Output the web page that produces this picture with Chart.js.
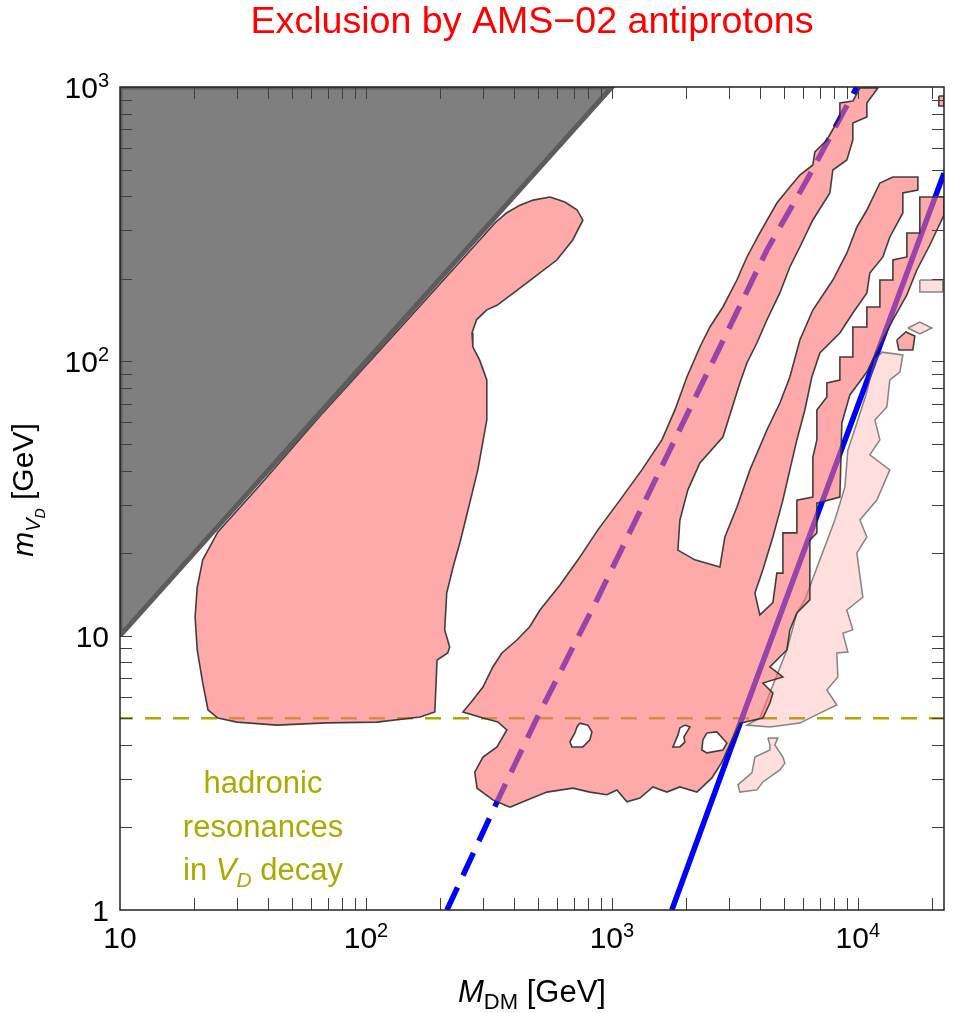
<!DOCTYPE html>
<html>
<head>
<meta charset="utf-8">
<script src="https://cdn.jsdelivr.net/npm/chart.js@4.4.1/dist/chart.umd.min.js"></script>
<style>
  html, body { margin: 0; padding: 0; background: #fff; }
  #wrap { width: 954px; height: 1013px; }
</style>
</head>
<body>
<div id="wrap"><canvas id="chart" width="954" height="1013"></canvas></div>
<script>
// axis ranges and tick labels (exponents of 10)
const xRange = [10, 22400];
const yRange = [1, 1000];
const xTickExp = [1, 2, 3, 4];
const yTickExp = [0, 1, 2, 3];

const titleText = "Exclusion by AMS\u221202 antiprotons";

// M_DM = m_VD edge, region above is kinematically closed
const closedRegion = [[10, 10], [1000, 1000], [10, 1000]];

// hadronic resonance threshold
const resonanceMass = 5;

// the two benchmark curves
const curveSolid = [[1753, 1], [3378, 5], [9280, 57.6], [22400, 485]];
const curveDashed = [[213.5, 1], [344, 2.52], [496, 5.01], [869, 13.5], [2279, 79.9],
  [3253, 153.8], [4267, 254.6], [6204, 458], [9906, 1000]];

// excluded regions (M_DM, m_VD)
const excludedLow = [[560, 397], [644, 381], [721, 357], [762, 327], [693, 277], [597, 234],
  [478, 201], [396, 177], [341, 160], [310, 154], [282, 142], [270, 127], [272, 113], [290, 101],
  [310, 85.5], [310, 61.1], [285, 40.2], [260, 28.7], [241, 21.8], [226, 17.8], [213, 14.3],
  [209, 10.5], [219, 9.1], [215, 8.65], [194.6, 8.15], [190.6, 5.27], [166, 5.05], [111, 4.84],
  [69.3, 4.81], [43.4, 4.72], [29.9, 4.84], [25, 5.01], [22.8, 5.36], [21.7, 6.71], [20.6, 8.87],
  [20.2, 11.7], [20.6, 15], [21.7, 18.9], [25, 23.9], [37.1, 35.4], [66.8, 64.9], [137.4, 132],
  [290, 277], [334, 319], [374, 348], [423, 371], [478, 387]];

const excludedHigh = [[385, 2.37], [328, 2.52], [283, 2.78], [277, 3.18], [299, 3.61], [341, 3.93],
  [374, 4.53], [344, 4.85], [299, 5.01], [248, 5.27], [272, 5.83], [299, 6.5], [328, 7.69],
  [357, 8.65], [411, 9.64], [464, 10.8], [510, 12.4], [615, 15.3], [728, 18.9], [877, 24.3],
  [1078, 31.2], [1324, 40.2], [1597, 51.7], [1804, 66.5], [2018, 87.7], [2279, 112.8],
  [2503, 133.4], [2827, 157.8], [3222, 197.9], [3539, 240.1], [3996, 293.7], [4685, 377.7],
  [5291, 432], [5810, 477.8], [6562, 519.7], [6686, 579.6], [7482, 641], [8451, 777.5],
  [8451, 874.4], [9543, 889.2], [10190, 991.6], [12060, 991.6], [10880, 874.4], [10880, 777.5],
  [9543, 739.3], [9543, 641], [9023, 542], [7914, 498.3], [7695, 410.8], [6562, 327.5],
  [5810, 261.1], [5291, 220.7], [4819, 177.5], [4267, 141.5], [3886, 116.6], [3539, 98.6],
  [3314, 83.4], [2827, 53], [2279, 42.6], [2037, 34], [1890, 26.4], [1855, 20.5], [2175, 18.9],
  [2748, 17.8], [2880, 22.9], [3222, 29.4], [3640, 40.2], [4267, 56.2], [4819, 70.5],
  [5291, 87.7], [5810, 119.6], [6562, 153.8], [7914, 197.9], [9023, 248.3], [9907, 308.8],
  [10880, 356.1], [12290, 446.8], [13880, 469.8], [17540, 469.8], [17540, 421.3], [15240, 410.8],
  [15240, 347.3], [13490, 284], [12640, 240.1], [11190, 209.9], [10880, 177.5], [9543, 150],
  [8451, 126.8], [7006, 107.2], [6501, 87.7], [6088, 66.5], [5649, 51.7], [5291, 40.2],
  [4956, 31.2], [4513, 22.9], [4110, 17.4], [3814, 14.3], [3996, 11.9], [4513, 13.2],
  [4685, 16.9], [4956, 16.9], [4956, 23.7], [5649, 23.7], [5649, 31.2], [6562, 32], [6562, 44.8],
  [6813, 51.7], [6813, 66.5], [7482, 74.1], [7482, 83.4], [8451, 85.5], [8451, 103.7],
  [9543, 103.7], [9543, 133.4], [10880, 133.4], [10880, 157.8], [12290, 157.8], [12290, 197.9],
  [13880, 197.9], [13880, 234.1], [15820, 240.1], [15820, 293.7], [17860, 293.7], [17860, 397.2],
  [22400, 397.2], [22400, 341.5], [19620, 265.5], [17370, 215.3], [15820, 174.5], [13880, 141.5],
  [12290, 114.7], [10880, 91.4], [9280, 75.4], [8610, 59.6], [8451, 32], [6813, 30.4],
  [6813, 23.7], [6380, 22.3], [6380, 13.5], [5649, 12.1], [5291, 10.5], [5145, 8.87],
  [4389, 7.69], [4956, 7.07], [4110, 6.72], [4513, 6.18], [4389, 5.68], [4110, 5.01], [3314, 4.8],
  [3075, 4.17], [2800, 3.46], [2550, 3.03], [2216, 2.69], [1890, 2.81], [1673, 2.69],
  [1468, 2.81], [1300, 2.56], [1151, 2.48], [1048, 2.74], [954, 2.63], [814, 2.69], [694, 2.78],
  [544, 2.69], [435, 2.48]];

const excludedBits = [
  [[14400, 119.6], [15670, 127.9], [17050, 123.7], [16730, 110], [14680, 110]],
  [[21350, 927], [22400, 927], [22400, 853], [21350, 853]]
];

// allowed islands inside the excluded region
const islands = [
  [[741, 4.8], [799, 4.72], [829, 4.46], [814, 4.17], [762, 3.93], [688, 3.93], [675, 4.1], [707, 4.42], [721, 4.65]],
  [[1981, 4.72], [2075, 4.65], [1962, 4.27], [1981, 4.1], [1890, 3.93], [1770, 3.93], [1855, 4.34], [1890, 4.61]],
  [[2433, 4.42], [2672, 4.46], [2934, 4.06], [2827, 3.83], [2433, 3.74], [2322, 3.83], [2344, 4.17]]
];

// weaker exclusion (lighter shading)
const excludedWeak = [
  [[6088, 13.5], [7006, 18.9], [8064, 26.4], [8855, 34.8], [9108, 47.5], [10000, 61.1],
   [10780, 75.4], [11730, 101], [12520, 108], [15240, 105.5], [14820, 91.4], [13490, 85.5],
   [13120, 68.2], [11730, 61.1], [12290, 51.7], [11190, 45.6], [13490, 40.2], [11950, 31.2],
   [10190, 26.4], [10880, 22.9], [9907, 20], [10480, 13.8], [9023, 12.4], [9543, 10.5],
   [8690, 10.2], [9108, 8.72], [8214, 8.65], [8293, 7.07], [7482, 6.34], [8214, 5.59],
   [7006, 5.22], [5810, 4.8], [4389, 4.65], [3539, 4.72], [3996, 5.01], [5145, 8.87], [5649, 12.1]],
  [[4307, 4.24], [4729, 4.24], [4598, 4.0], [4956, 3.61], [5050, 3.43], [4819, 3.24], [4110, 2.93],
   [3886, 2.74], [3314, 2.69], [3253, 2.86], [3708, 3.16], [3814, 3.61], [4389, 3.83], [4389, 4.0]],
  [[15970, 132.3], [17860, 139.1], [19990, 132.3], [17860, 125.8]],
  [[17860, 197.9], [22150, 197.9], [22150, 178.9], [17860, 178.9]]
];

const olive = '#aaaa00';
const pts = arr => arr.map(([x, y]) => ({ x, y }));
const closed = arr => pts(arr.concat([arr[0]]));

function shape(arr, fillColor, lineColor, width, order) {
  return {
    data: closed(arr), showLine: true, fill: 'shape', tension: 0,
    backgroundColor: fillColor, borderColor: lineColor, borderWidth: width,
    pointRadius: 0, clip: 0, order
  };
}
function curve(arr, color, width, dash, order, dashOffset) {
  return {
    data: pts(arr), showLine: true, fill: false, tension: 0,
    borderColor: color, borderWidth: width, borderDash: dash || [], borderDashOffset: dashOffset || 0,
    pointRadius: 0, clip: 0, order, borderCapStyle: 'butt'
  };
}

const datasets = [
  curve(curveSolid, '#0000ff', 5.5, null, 20),
  curve(curveDashed, '#0000ff', 5.5, [25, 13], 20),
  curve([[xRange[0], resonanceMass], [xRange[1], resonanceMass]], olive, 2.5, [16, 12], 21, 3),
  ...excludedWeak.map(p => shape(p, 'rgba(255,113,113,0.23)', 'rgba(85,85,85,0.7)', 1.5, 15)),
  shape(excludedLow, 'rgba(255,113,113,0.6)', 'rgba(45,45,45,0.9)', 1.6, 10),
  shape(excludedHigh, 'rgba(255,113,113,0.6)', 'rgba(45,45,45,0.9)', 1.6, 10),
  ...excludedBits.map(p => shape(p, 'rgba(255,113,113,0.6)', 'rgba(45,45,45,0.9)', 1.6, 10)),
  ...islands.map(p => shape(p, '#ffffff', 'rgba(45,45,45,0.9)', 1.6, 8)),
  shape(closedRegion, '#7f7f7f', '#5c5c5c', 5, 5)
];

const fontOf = p => (p.it ? 'italic ' : '') + p.s + 'px "Liberation Sans", Arial, sans-serif';
function runs(ctx, parts, x, y, align) {
  let w = 0;
  parts.forEach(p => { ctx.font = fontOf(p); p.w = ctx.measureText(p.t).width; w += p.w; });
  let cx = align === 'center' ? x - w / 2 : align === 'right' ? x - w : x;
  parts.forEach(p => { ctx.font = fontOf(p); ctx.fillText(p.t, cx, y + (p.dy || 0)); cx += p.w; });
}
function powParts(e) {
  if (e === 0) return [{ t: '1', s: 30 }];
  if (e === 1) return [{ t: '10', s: 30 }];
  return [{ t: '10', s: 30 }, { t: String(e), s: 20, dy: -11 }];
}

const framePlugin = {
  id: 'frame',
  afterDatasetsDraw(chart) {
    const { ctx, chartArea: a, scales: { x, y } } = chart;
    ctx.save();
    ctx.textAlign = 'left';
    ctx.textBaseline = 'alphabetic';

    // inward ticks on all four sides
    const tickLen = 12;
    ctx.strokeStyle = '#404040';
    ctx.lineWidth = 1;
    ctx.beginPath();
    for (let e = 1; e <= 4; e++) {
      for (let k = 1; k < 10; k++) {
        const v = k * Math.pow(10, e);
        if (v <= xRange[0] || v >= xRange[1]) continue;
        const p = Math.round(x.getPixelForValue(v)) + 0.5;
        ctx.moveTo(p, a.bottom); ctx.lineTo(p, a.bottom - tickLen);
        ctx.moveTo(p, a.top); ctx.lineTo(p, a.top + tickLen);
      }
    }
    for (let e = 0; e <= 2; e++) {
      for (let k = 1; k < 10; k++) {
        const v = k * Math.pow(10, e);
        if (v <= yRange[0] || v >= yRange[1]) continue;
        const p = Math.round(y.getPixelForValue(v)) + 0.5;
        ctx.moveTo(a.left, p); ctx.lineTo(a.left + tickLen, p);
        ctx.moveTo(a.right, p); ctx.lineTo(a.right - tickLen, p);
      }
    }
    ctx.stroke();

    // frame
    ctx.strokeStyle = '#222';
    ctx.lineWidth = 1.5;
    ctx.strokeRect(a.left, a.top, a.right - a.left, a.bottom - a.top);

    // tick labels
    ctx.fillStyle = '#000';
    xTickExp.forEach(e => runs(ctx, powParts(e), x.getPixelForValue(Math.pow(10, e)), 948, 'center'));
    yTickExp.forEach(e => runs(ctx, powParts(e), 109, y.getPixelForValue(Math.pow(10, e)) + 11, 'right'));

    // axis titles
    runs(ctx, [{ t: 'M', s: 31, it: true }, { t: 'DM', s: 22, dy: 7 }, { t: ' [GeV]', s: 31 }],
      (a.left + a.right) / 2, 1002, 'center');
    ctx.save();
    ctx.translate(33, 490);
    ctx.rotate(-Math.PI / 2);
    runs(ctx, [{ t: 'm', s: 30, it: true }, { t: 'V', s: 20, it: true, dy: 7 },
      { t: 'D', s: 14, it: true, dy: 12 }, { t: ' [GeV]', s: 30 }], 0, 0, 'center');
    ctx.restore();

    // title
    ctx.fillStyle = '#ff0000';
    runs(ctx, [{ t: titleText, s: 37.6 }], (a.left + a.right) / 2, 33, 'center');

    // annotation
    ctx.fillStyle = olive;
    runs(ctx, [{ t: 'hadronic', s: 31 }], 263, 793, 'center');
    runs(ctx, [{ t: 'resonances', s: 31 }], 263, 837, 'center');
    runs(ctx, [{ t: 'in ', s: 31 }, { t: 'V', s: 31, it: true }, { t: 'D', s: 21, it: true, dy: 7 },
      { t: ' decay', s: 31 }], 263, 880, 'center');
    ctx.restore();
  }
};

new Chart(document.getElementById('chart'), {
  type: 'scatter',
  data: { datasets },
  options: {
    responsive: false,
    animation: false,
    layout: { padding: { left: 120, top: 87, right: 10, bottom: 103 } },
    scales: {
      x: { type: 'logarithmic', min: xRange[0], max: xRange[1], display: false },
      y: { type: 'logarithmic', min: yRange[0], max: yRange[1], display: false }
    },
    plugins: { legend: { display: false }, tooltip: { enabled: false }, title: { display: false } }
  },
  plugins: [framePlugin]
});
</script>
</body>
</html>
